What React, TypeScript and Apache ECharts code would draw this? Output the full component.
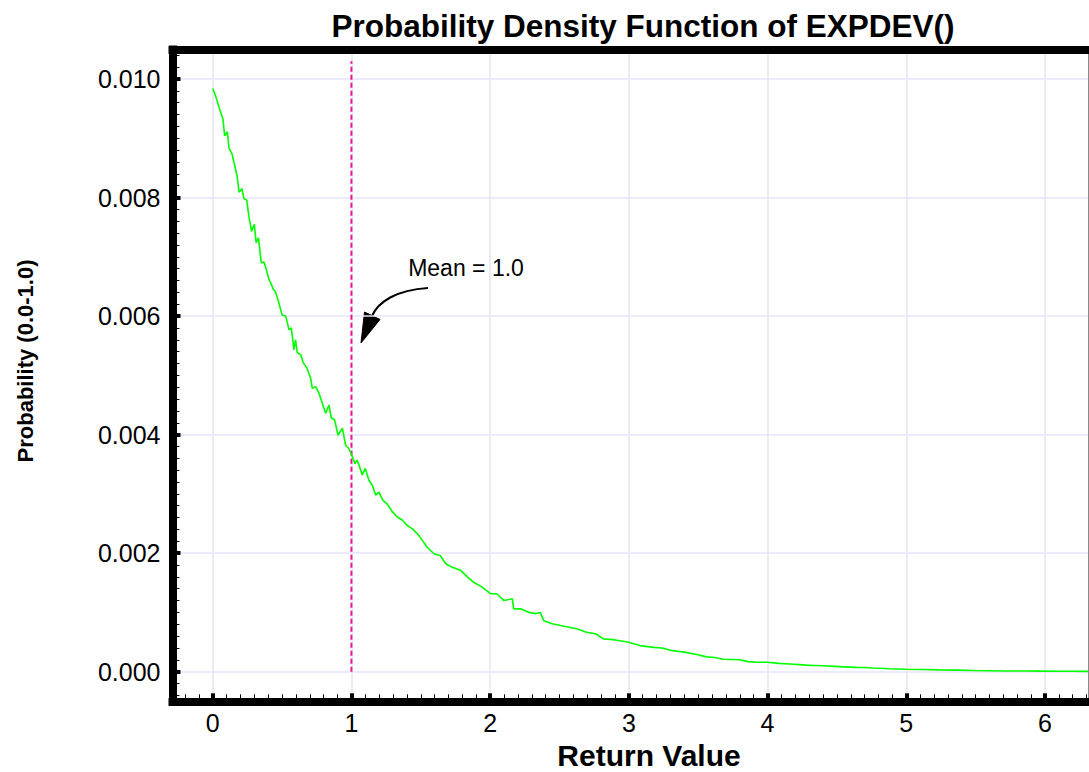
import React, { useEffect, useRef } from "react";
import * as echarts from "echarts";

// ---- data ----
const X_VALUES = [
  0.0, 0.02, 0.05, 0.074, 0.086, 0.105, 0.117, 0.14, 0.176, 0.19, 0.21, 0.225, 0.245, 0.26, 0.28, 0.3,
  0.313, 0.33, 0.35, 0.37, 0.385, 0.405, 0.418, 0.437, 0.45, 0.47, 0.5, 0.526, 0.55, 0.567, 0.585,
  0.597, 0.61, 0.634, 0.653, 0.68, 0.706, 0.718, 0.742, 0.766, 0.79, 0.814, 0.838, 0.855, 0.879,
  0.903, 0.935, 0.958, 0.98, 1.006, 1.025, 1.04, 1.054, 1.078, 1.1, 1.126, 1.15, 1.174, 1.198,
  1.227, 1.258, 1.294, 1.33, 1.366, 1.4, 1.44, 1.475, 1.51, 1.546, 1.595, 1.64, 1.68, 1.727, 1.787,
  1.835, 1.88, 1.94, 2.0, 2.05, 2.1, 2.16, 2.17, 2.22, 2.28, 2.33, 2.36, 2.387, 2.447, 2.507, 2.57,
  2.63, 2.7, 2.76, 2.82, 2.89, 2.99, 3.08, 3.18, 3.24, 3.3, 3.4, 3.49, 3.56, 3.62, 3.68, 3.8, 3.86,
  3.92, 4.0, 4.08, 4.16, 4.28, 4.34, 4.4, 4.52, 4.64, 4.7, 4.76, 4.88, 5.0, 5.12, 5.24, 5.36, 5.48,
  5.6, 5.72, 5.84, 5.96, 6.1, 6.2, 6.31,
];
const Y_VALUES = [
  0.00984, 0.00972, 0.00949, 0.00932, 0.00904, 0.00911, 0.00884, 0.00873, 0.00836, 0.00809, 0.00815,
  0.00798, 0.00796, 0.00769, 0.00743, 0.00755, 0.00724, 0.00732, 0.0069, 0.00691, 0.0068, 0.00662,
  0.00656, 0.00645, 0.00642, 0.00628, 0.00602, 0.006, 0.00577, 0.0058, 0.00543, 0.0056, 0.00538,
  0.00535, 0.00521, 0.00512, 0.00495, 0.00478, 0.00481, 0.0047, 0.00453, 0.00436, 0.0045, 0.00428,
  0.00425, 0.00399, 0.00411, 0.00382, 0.00377, 0.00363, 0.00351, 0.00357, 0.00349, 0.00332, 0.00343,
  0.00323, 0.00315, 0.00298, 0.00303, 0.00289, 0.00283, 0.0027, 0.00261, 0.00256, 0.00247, 0.00241,
  0.00233, 0.00222, 0.0021, 0.00199, 0.00196, 0.00182, 0.00176, 0.00171, 0.0016, 0.00151, 0.00143,
  0.00132, 0.00131, 0.0012, 0.00123, 0.00106, 0.00106, 0.001, 0.00098, 0.001, 0.00086, 0.00081,
  0.00078, 0.00075, 0.00072, 0.00066, 0.00064, 0.00055, 0.00054, 0.0005, 0.00044, 0.00041, 0.0004,
  0.00036, 0.00033, 0.00029, 0.00025, 0.00024, 0.00021, 0.0002, 0.00017, 0.00016, 0.00016, 0.00014,
  0.00013, 0.00011, 0.000105, 0.0001, 0.000085, 0.000073, 0.00007, 0.000062, 0.00005, 0.00004,
  0.000036, 0.00003, 0.000026, 0.00002, 0.000016, 0.000012, 0.000012, 0.00001, 0.000008, 0.000006,
  0.000005,
];
const MEAN_X = [1, 1];
const MEAN_Y = [0, 0.0103];

const X_TICKS = [0, 1, 2, 3, 4, 5, 6];
const Y_TICKS = [0, 0.002, 0.004, 0.006, 0.008, 0.01];
const Y_TICK_LABELS = ["0.000", "0.002", "0.004", "0.006", "0.008", "0.010"];

const TITLE = "Probability Density Function of EXPDEV()";
const X_NAME = "Return Value";
const Y_NAME = "Probability (0.0-1.0)";
const NOTE = "Mean = 1.0";

const X_MIN = -0.29;
const X_MAX = 6.31;
const Y_MIN = -0.0005;
const Y_MAX = 0.0105;
const X_MINOR_STEP = 0.1;
const Y_MINOR_STEP = 0.0002;

const FONT = "'Liberation Sans', Arial, Helvetica, sans-serif";

function steps(from: number, to: number, step: number): number[] {
  const out: number[] = [];
  const n0 = Math.ceil(from / step - 1e-9);
  const n1 = Math.floor(to / step + 1e-9);
  for (let i = n0; i <= n1; i++) out.push(Number((i * step).toFixed(6)));
  return out;
}

export default function App() {
  const ref = useRef<HTMLDivElement>(null);
  useEffect(() => {
    if (!ref.current) return;
    const chart = echarts.init(ref.current, undefined, { renderer: "svg" });
    const xMinor = steps(X_MIN, X_MAX, X_MINOR_STEP);
    const yMinor = steps(Y_MIN, Y_MAX, Y_MINOR_STEP);
    const hidden = { show: false };
    const option: any = {
      animation: false,
      backgroundColor: "#ffffff",
      grid: { left: 172.5, right: 1, top: 49.4, bottom: 70.7, containLabel: false },
      xAxis: [
        {
          type: "value",
          position: "bottom",
          min: X_MIN,
          max: X_MAX,
          axisLine: { show: true, onZero: false, lineStyle: { color: "#000", width: 8, cap: "square" } },
          axisTick: { show: true, inside: true, length: 8, customValues: X_TICKS, lineStyle: { color: "#000", width: 4 } },
          axisLabel: {
            show: true,
            customValues: X_TICKS,
            fontSize: 25,
            fontFamily: FONT,
            color: "#000",
            margin: 9,
          },
          splitLine: { show: true, lineStyle: { color: "#e4e4fa", width: 1.5 } },
        },
        {
          type: "value",
          position: "bottom",
          min: X_MIN,
          max: X_MAX,
          axisLine: { show: false, onZero: false },
          axisTick: { show: true, inside: true, length: 7, customValues: xMinor, lineStyle: { color: "#000", width: 1 } },
          axisLabel: hidden,
          splitLine: hidden,
        },
        {
          type: "value",
          position: "top",
          min: X_MIN,
          max: X_MAX,
          axisLine: { show: true, onZero: false, lineStyle: { color: "#000", width: 8, cap: "square" } },
          axisTick: hidden,
          axisLabel: hidden,
          splitLine: hidden,
        },
      ],
      yAxis: [
        {
          type: "value",
          position: "left",
          min: Y_MIN,
          max: Y_MAX,
          axisLine: { show: true, onZero: false, lineStyle: { color: "#000", width: 8, cap: "square" } },
          axisTick: { show: true, inside: true, length: 8, customValues: Y_TICKS, lineStyle: { color: "#000", width: 4 } },
          axisLabel: {
            show: true,
            customValues: Y_TICKS,
            formatter: (v: number) => {
              const i = Y_TICKS.findIndex((t) => Math.abs(t - v) < 1e-9);
              return i >= 0 ? Y_TICK_LABELS[i] : "";
            },
            fontSize: 25,
            fontFamily: FONT,
            color: "#000",
            margin: 12,
          },
          splitLine: { show: true, lineStyle: { color: "#e4e4fa", width: 1.5 } },
        },
        {
          type: "value",
          position: "left",
          min: Y_MIN,
          max: Y_MAX,
          axisLine: { show: false, onZero: false },
          axisTick: { show: true, inside: true, length: 7, customValues: yMinor, lineStyle: { color: "#000", width: 1 } },
          axisLabel: hidden,
          splitLine: hidden,
        },
        {
          type: "value",
          position: "right",
          min: Y_MIN,
          max: Y_MAX,
          axisLine: { show: true, onZero: false, lineStyle: { color: "#8a8a8a", width: 1 } },
          axisTick: hidden,
          axisLabel: hidden,
          splitLine: hidden,
        },
      ],
      series: [
        {
          type: "line",
          xAxisIndex: 0,
          yAxisIndex: 0,
          data: X_VALUES.map((x, i) => [x, Y_VALUES[i]]),
          showSymbol: false,
          symbol: "none",
          clip: true,
          lineStyle: { color: "#00ff00", width: 1.6 },
          z: 3,
        },
        {
          type: "line",
          xAxisIndex: 0,
          yAxisIndex: 0,
          data: MEAN_X.map((x, i) => [x, MEAN_Y[i]]),
          showSymbol: false,
          symbol: "none",
          lineStyle: { color: "#e8188c", width: 2, type: [5, 3] },
          z: 2,
        },
      ],
      graphic: [
        {
          type: "text",
          x: 643,
          y: 26,
          style: { text: TITLE, fontSize: 31.5, fontWeight: "bold", fontFamily: FONT, fill: "#000", align: "center", verticalAlign: "middle" },
        },
        {
          type: "text",
          x: 649,
          y: 755,
          style: { text: X_NAME, fontSize: 30, fontWeight: "bold", fontFamily: FONT, fill: "#000", align: "center", verticalAlign: "middle" },
        },
        {
          type: "text",
          x: 25,
          y: 361,
          rotation: Math.PI / 2,
          style: { text: Y_NAME, fontSize: 22, fontWeight: "bold", fontFamily: FONT, fill: "#000", align: "center", verticalAlign: "middle" },
        },
        {
          type: "text",
          x: 466,
          y: 268,
          style: { text: NOTE, fontSize: 23, fontFamily: FONT, fill: "#000", align: "center", verticalAlign: "middle" },
        },
        {
          type: "bezierCurve",
          shape: { x1: 428, y1: 288, cpx1: 396, cpy1: 290, cpx2: 378, cpy2: 302, x2: 372, y2: 316 },
          style: { stroke: "#000", lineWidth: 2, fill: null },
        },
        {
          type: "polygon",
          shape: { points: [[364.5, 312], [380, 319.5], [361, 343]] },
          style: { fill: "#000", stroke: "#000", lineWidth: 1 },
        },
      ],
    };
    chart.setOption(option);
    return () => chart.dispose();
  }, []);
  return (
    <div
      ref={ref}
      style={{ position: "absolute", left: 0, top: 0, width: 1089, height: 772, background: "#fff" }}
    />
  );
}
